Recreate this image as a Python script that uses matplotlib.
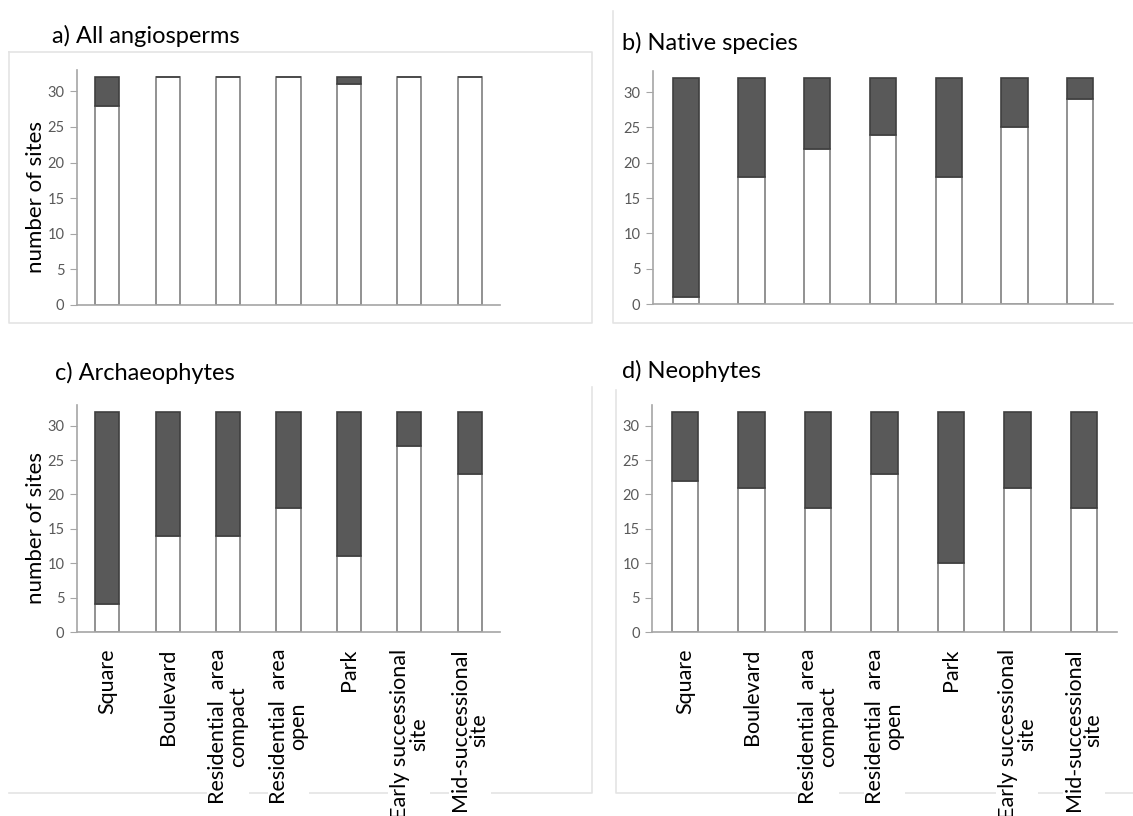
import matplotlib
matplotlib.use("Agg")
import matplotlib.pyplot as plt
from matplotlib.lines import Line2D
import numpy as np

plt.rcParams['font.family'] = ['Lato', 'DejaVu Sans']

# habitat types along the x axis
habitats = ["Square", "Boulevard", "Residential  area\ncompact",
            "Residential  area\nopen", "Park", "Early successional\nsite",
            "Mid-successional\nsite"]
n_sites = 32

# sites per habitat where the group is present (lower, white part)
all_angiosperms = [28, 32, 32, 32, 31, 32, 32]
native_species = [1, 18, 22, 24, 18, 25, 29]
archaeophytes = [4, 14, 14, 18, 11, 27, 23]
neophytes = [22, 21, 18, 23, 10, 21, 18]

W, H = 1133, 816
fig = plt.figure(figsize=(W / 100, H / 100), dpi=100)
fig.set_facecolor('white')


def px_axes(left, top, right, bottom):
    return fig.add_axes([left / W, 1 - bottom / H, (right - left) / W, (bottom - top) / H])


def frame(points):
    xs = [p[0] / W for p in points]
    ys = [1 - p[1] / H for p in points]
    fig.add_artist(Line2D(xs, ys, color='#e4e4e4', lw=1.2, zorder=-1))


# faint chart-area borders
frame([(9, 52), (592, 52), (592, 323), (9, 323), (9, 52)])
frame([(613, 11), (613, 323), (1133, 323)])
frame([(592, 387), (592, 793), (9, 793)])
frame([(616, 390), (616, 793), (1133, 793)])

panels = [
    ("a) All angiosperms", all_angiosperms, (77, 70, 500, 305), (52, 43), True, False),
    ("b) Native species", native_species, (653, 71, 1113, 304), (622, 50), False, False),
    ("c) Archaeophytes", archaeophytes, (77, 405, 500, 632), (55, 380), True, True),
    ("d) Neophytes", neophytes, (652, 405, 1117, 632), (622, 378), False, True),
]

x = np.arange(len(habitats))
for title, present, box, tpos, show_ylabel, show_xlabels in panels:
    ax = px_axes(*box)
    ax.set_facecolor('none')
    present = np.array(present)
    absent = n_sites - present
    ax.bar(x, present, width=0.4, color='white', edgecolor='#7f7f7f', linewidth=1.2, zorder=2)
    ax.bar(x, absent, width=0.4, bottom=present, color='#595959', edgecolor='#3f3f3f',
           linewidth=1.2, zorder=2)
    ax.set_xlim(-0.5, len(habitats) - 0.5)
    ax.set_ylim(0, 33)
    ax.set_yticks(range(0, 31, 5))
    for side in ['top', 'right']:
        ax.spines[side].set_visible(False)
    for side in ['left', 'bottom']:
        ax.spines[side].set_color('#a6a6a6')
        ax.spines[side].set_linewidth(1.2)
    ax.tick_params(axis='y', length=5, color='#a6a6a6', labelcolor='#595959', labelsize=10.5, pad=4)
    ax.tick_params(axis='x', length=0, pad=12)
    ax.set_xticks(x)
    if show_xlabels:
        labels = ax.set_xticklabels(habitats, rotation=90, fontsize=15.5, linespacing=0.95,
                                    multialignment='center')
        for lab in labels:
            lab.set_bbox(dict(facecolor='white', edgecolor='none', pad=1))
    else:
        ax.set_xticklabels([])
    if show_ylabel:
        ax.set_ylabel("number of sites", fontsize=16, va='center')
        ax.yaxis.set_label_coords(-0.097, 0.46)
    fig.text(tpos[0] / W, 1 - tpos[1] / H, title, fontsize=17, va='baseline', ha='left')

fig.savefig("out.png", dpi=100, facecolor='white')
